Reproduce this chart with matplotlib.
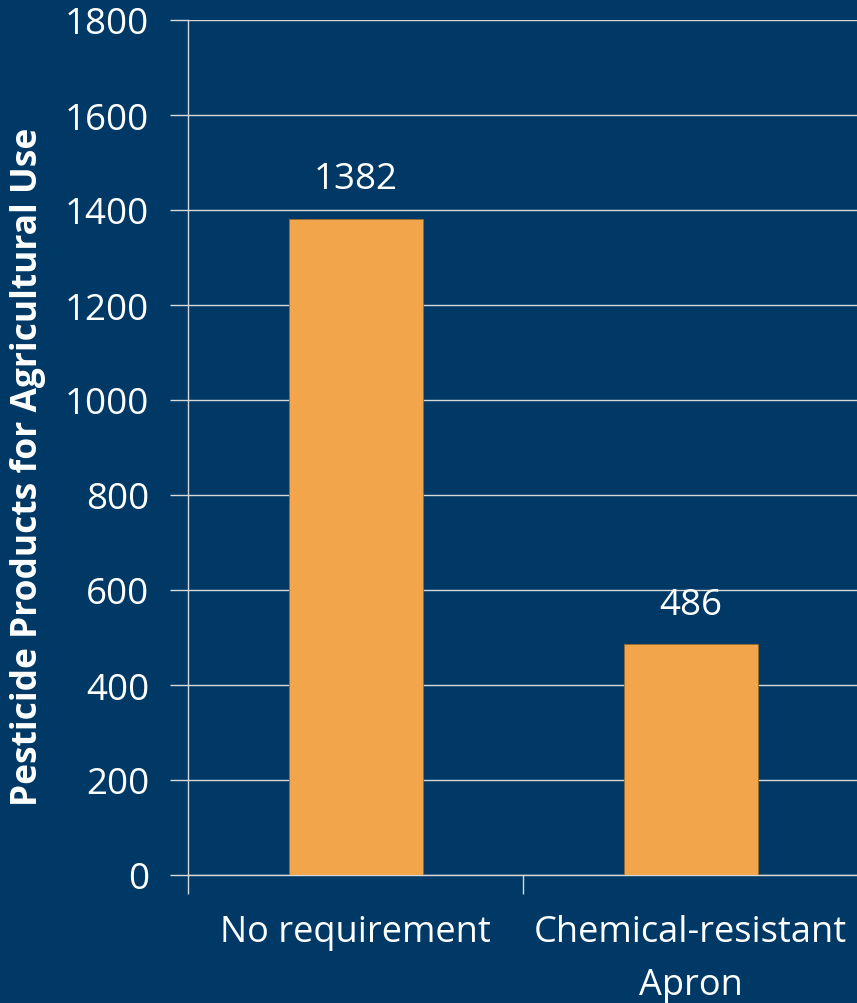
import matplotlib.pyplot as plt
import numpy as np

categories = ['No requirement', 'Chemical-resistant\nApron']
counts = [1382, 486]
yticks = [0, 200, 400, 600, 800, 1000, 1200, 1400, 1600, 1800]

bg = '#003966'
bar_color = '#F2A54A'
line_color = '#D9D9D9'

plt.rcParams['font.family'] = ['Open Sans', 'DejaVu Sans']

fig = plt.figure(figsize=(8.57, 10.04), dpi=100, facecolor=bg)
ax = fig.add_axes([188/857, 1 - 876/1004, 670/857, 855/1004])
ax.set_facecolor(bg)

x = np.arange(len(categories))
bars = ax.bar(x, counts, width=0.4, color=bar_color, edgecolor='#9a6a30',
              linewidth=0.6, zorder=3)

for rect, v in zip(bars, counts):
    ax.text(rect.get_x() + rect.get_width() / 2, v + 45, str(v),
            ha='center', va='bottom', color='white', fontsize=26.5)

ax.set_xlim(-0.5, 1.5)
ax.set_ylim(0, 1800)
ax.set_yticks(yticks)
ax.set_yticklabels([str(t) for t in yticks], color='white', fontsize=26.5)
ax.yaxis.grid(True, color=line_color, linewidth=1.0, zorder=0)
ax.tick_params(axis='y', length=13, color=line_color, width=1.0, pad=15)

# category boundary ticks on x
ax.set_xticks([-0.5, 0.5, 1.5], minor=False)
ax.set_xticklabels([])
ax.set_xticks(x, minor=True)
ax.set_xticklabels(categories, minor=True, color='white', fontsize=26,
                   linespacing=1.65)
ax.tick_params(axis='x', which='major', length=14, color=line_color, width=1.0)
ax.tick_params(axis='x', which='minor', length=0, pad=28)

for side in ['top', 'right']:
    ax.spines[side].set_visible(False)
for side in ['left', 'bottom']:
    ax.spines[side].set_color(line_color)
    ax.spines[side].set_linewidth(1.0)

# y label placed by hand so it stays inside the figure
fig.text(28/857, 1 - 467/1004, 'Pesticide Products for Agricultural Use',
         color='white', fontsize=25.5, fontweight='bold', rotation=90,
         ha='center', va='center')

fig.savefig('out.png', dpi=100, facecolor=bg)
